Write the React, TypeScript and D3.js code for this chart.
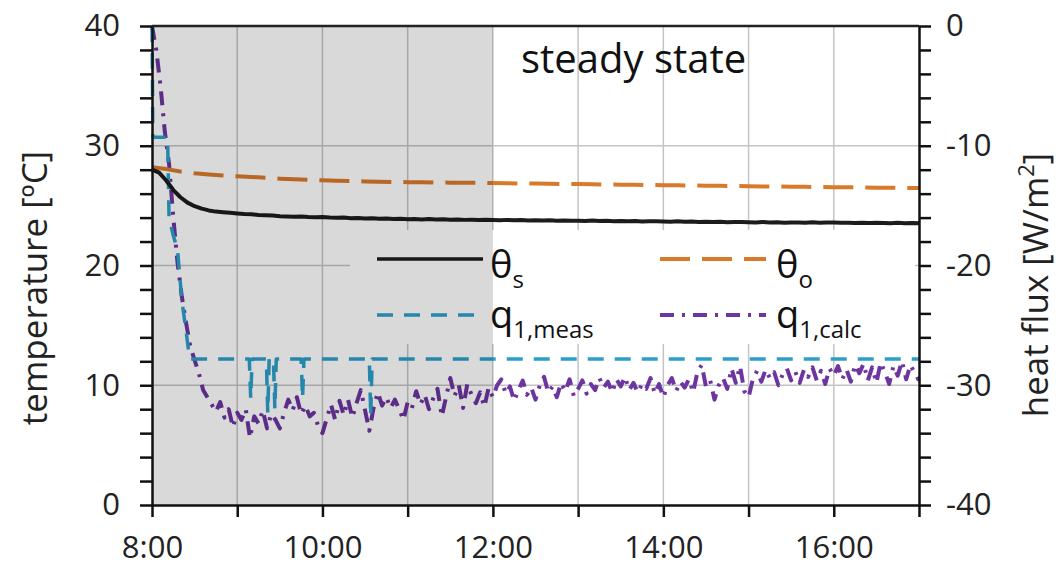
import React, { useRef, useEffect } from 'react';
import * as d3 from 'd3';

// minutes after 8:00
const hourTicks = [0, 60, 120, 180, 240, 300, 360, 420, 480, 540];

// surface temperature θs, one value every 5 min
const thetaSStep = 5;
const thetaS = [
  28.0, 27.75, 27.1, 26.3, 25.7, 25.25, 24.95, 24.75, 24.6, 24.5, 24.45, 24.4,
  24.35, 24.3, 24.28, 24.22, 24.2, 24.18, 24.12, 24.1, 24.08, 24.1, 24.05, 24.02,
  24.05, 24.0, 23.98, 24.0, 23.95, 23.97, 23.92, 23.95, 23.9, 23.93, 23.88, 23.9,
  23.87, 23.89, 23.85, 23.88, 23.84, 23.86, 23.82, 23.85, 23.81, 23.83, 23.8, 23.82,
  23.8, 23.78, 23.81, 23.77, 23.79, 23.76, 23.78, 23.75, 23.77, 23.74, 23.76, 23.73,
  23.74, 23.72, 23.75, 23.71, 23.73, 23.7, 23.72, 23.69, 23.71, 23.68, 23.7, 23.69,
  23.68, 23.66, 23.69, 23.65, 23.67, 23.64, 23.66, 23.63, 23.65, 23.62, 23.64, 23.63,
  23.62, 23.6, 23.63, 23.59, 23.61, 23.58, 23.6, 23.6, 23.58, 23.61, 23.57, 23.59,
  23.6, 23.57, 23.58, 23.55, 23.58, 23.54, 23.56, 23.55, 23.53, 23.56, 23.52, 23.54,
  23.52,
];

// operative temperature θo, one value every 10 min
const thetaOStep = 10;
const thetaO = [
  28.2, 28.05, 27.85, 27.7, 27.6, 27.52, 27.45, 27.4, 27.32, 27.25, 27.2, 27.15,
  27.12, 27.08, 27.05, 27.02, 27.0, 26.98, 26.96, 26.95, 26.93, 26.92, 26.9, 26.9,
  26.88, 26.87, 26.85, 26.84, 26.82, 26.8, 26.8, 26.78, 26.77, 26.75, 26.74, 26.72,
  26.71, 26.7, 26.68, 26.67, 26.65, 26.64, 26.62, 26.6, 26.6, 26.58, 26.57, 26.55,
  26.54, 26.53, 26.52, 26.5, 26.5, 26.48, 26.47,
];

// measured heat flux q1,meas [W/m2]
const qMeasTimes = [
  0, 0.6, 11, 12, 15, 18, 21, 24, 26.5, 68.5, 69.5, 70.5, 80.5, 81.5, 82.5,
  85.5, 86.5, 87.5, 105, 106, 107, 153, 154, 155, 540,
];
const qMeasValues = [
  0, -9.3, -9.3, -16, -17.5, -18.7, -22.9, -25.5, -27.8, -27.8, -31.1, -27.8, -27.8, -32.3, -27.8,
  -27.8, -32.0, -27.8, -27.8, -31.1, -27.8, -27.8, -32.6, -27.8, -27.8,
];

// calculated heat flux q1,calc [W/m2], one value every 3 min
const qCalcStep = 3;
const qCalc = [
  0, -2.0, -5.0, -8.8, -11.5, -16.0, -19.8, -22.6, -24.8, -26.8,
  -27.9, -29.0, -30.4, -31.0, -31.6, -32.2, -31.4, -32.7, -32.0, -33.5,
  -32.3, -32.9, -32.0, -34.4, -32.6, -33.2, -32.1, -33.6, -32.4, -32.9,
  -33.6, -32.3, -31.2, -32.1, -31.0, -32.4, -31.7, -32.6, -32.3, -33.4,
  -34.0, -32.8, -31.6, -32.9, -31.3, -32.5, -31.2, -32.7, -31.5, -30.4,
  -32.1, -33.8, -31.9, -30.6, -31.7, -31.0, -31.9, -31.2, -32.0, -32.9,
  -31.4, -31.9, -30.5, -31.6, -30.8, -32.0, -31.1, -30.3, -32.6, -31.0,
  -29.4, -30.9, -30.0, -31.9, -29.9, -30.8, -31.5, -30.6, -31.8, -30.2,
  -31.0, -30.0, -29.5, -30.7, -30.1, -31.3, -30.4, -29.6, -30.8, -30.2,
  -31.2, -30.0, -29.3, -30.6, -30.1, -31.0, -29.8, -30.5, -29.5, -30.9,
  -30.3, -29.6, -30.7, -29.9, -30.4, -29.4, -30.2, -29.7, -30.6, -29.5,
  -30.1, -29.3, -30.4, -29.8, -30.6, -29.9, -30.3, -29.4, -30.7, -29.9,
  -31.0, -30.0, -29.4, -30.5, -29.7, -30.2, -29.5, -30.6, -28.9, -28.3,
  -30.1, -29.6, -31.2, -30.0, -29.4, -30.3, -28.6, -29.8, -28.4, -30.5,
  -31.0, -29.5, -28.8, -29.7, -28.7, -29.4, -28.9, -30.0, -29.1, -28.6,
  -29.6, -28.9, -29.8, -28.7, -29.3, -28.5, -29.6, -28.8, -29.9, -28.6,
  -29.2, -28.4, -29.5, -28.7, -29.7, -28.3, -29.0, -28.2, -29.6, -28.5,
  -29.8, -28.1, -28.9, -29.9, -28.4, -29.2, -28.0, -29.5, -28.3, -29.0,
  -29.6,
];

const steadyStart = 240; // 12:00

const colors = {
  thetaS: '#1c1c1c',
  thetaO: '#d97a2b',
  qMeas: '#2b9fc9',
  qCalc: '#6d35a0',
};

const FONT = '"Open Sans", sans-serif';

export default function App() {
  const ref = useRef<SVGSVGElement>(null);

  useEffect(() => {
    const W = 1062;
    const H = 569;
    const left = 152, right = 919, top = 26, bottom = 505;

    const svg = d3.select(ref.current);
    svg.selectAll('*').remove();
    svg.attr('width', W).attr('height', H);

    const x = d3.scaleLinear().domain([0, 540]).range([left, right]);
    const yT = d3.scaleLinear().domain([0, 40]).range([bottom, top]);
    const yQ = d3.scaleLinear().domain([-40, 0]).range([bottom, top]);

    // gridlines
    const grid = svg.append('g').attr('stroke', '#c4c4c4').attr('stroke-width', 1.5);
    grid.selectAll('line.v')
      .data(hourTicks.slice(1, -1))
      .enter()
      .append('line')
      .attr('x1', d => x(d)).attr('x2', d => x(d))
      .attr('y1', top).attr('y2', bottom);
    grid.selectAll('line.h')
      .data([10, 20, 30])
      .enter()
      .append('line')
      .attr('x1', left).attr('x2', right)
      .attr('y1', d => yT(d)).attr('y2', d => yT(d));

    // legend box hides the grid behind it
    const lg = { x: 350, y: 230, w: 565, h: 114 };
    svg.append('rect')
      .attr('x', lg.x).attr('y', lg.y)
      .attr('width', lg.w).attr('height', lg.h)
      .attr('fill', '#fff');

    // series
    const lineT = d3.line<[number, number]>().x(d => x(d[0])).y(d => yT(d[1]));
    const lineQ = d3.line<[number, number]>().x(d => x(d[0])).y(d => yQ(d[1]));

    const thetaOPts: [number, number][] = thetaO.map((v, i) => [i * thetaOStep, v]);
    const thetaSPts: [number, number][] = thetaS.map((v, i) => [i * thetaSStep, v]);
    const qMeasPts: [number, number][] = qMeasTimes.map((t, i) => [t, qMeasValues[i]]);
    const qCalcPts: [number, number][] = qCalc.map((v, i) => [i * qCalcStep, v]);

    const series = [
      { d: lineQ(qCalcPts), color: colors.qCalc, w: 4, dash: '14,8,3,8' },
      { d: lineQ(qMeasPts), color: colors.qMeas, w: 3.5, dash: '16,11' },
      { d: lineT(thetaOPts), color: colors.thetaO, w: 4, dash: '30,12' },
      { d: lineT(thetaSPts), color: colors.thetaS, w: 4, dash: null },
    ];
    svg.append('g')
      .selectAll('path')
      .data(series)
      .enter()
      .append('path')
      .attr('d', d => d.d)
      .attr('fill', 'none')
      .attr('stroke', d => d.color)
      .attr('stroke-width', d => d.w)
      .attr('stroke-dasharray', d => d.dash)
      .attr('stroke-linejoin', 'round');

    // legend entries
    const legendData = [
      { main: 'θ', sub: 's', color: colors.thetaS, w: 3.5, dash: null, col: 0, row: 0 },
      { main: 'θ', sub: 'o', color: colors.thetaO, w: 4, dash: '30,12', col: 1, row: 0 },
      { main: 'q', sub: '1,meas', color: colors.qMeas, w: 3.5, dash: '16,11', col: 0, row: 1 },
      { main: 'q', sub: '1,calc', color: colors.qCalc, w: 4, dash: '14,8,3,8', col: 1, row: 1 },
    ];
    const colX = [377, 660];
    const textX = [490, 776];
    const rowY = [259, 315];
    const rowBase = [278, 328];

    const items = svg.append('g').selectAll('g').data(legendData).enter().append('g');
    items.append('line')
      .attr('x1', d => colX[d.col]).attr('x2', d => colX[d.col] + 106)
      .attr('y1', d => rowY[d.row]).attr('y2', d => rowY[d.row])
      .attr('stroke', d => d.color)
      .attr('stroke-width', d => d.w)
      .attr('stroke-dasharray', d => d.dash);
    const txt = items.append('text')
      .attr('x', d => textX[d.col])
      .attr('y', d => rowBase[d.row])
      .style('font-family', FONT)
      .style('font-size', '38px')
      .attr('fill', '#111');
    txt.append('tspan').text(d => d.main);
    txt.append('tspan')
      .attr('dy', 10)
      .style('font-size', '24px')
      .text(d => d.sub);

    // shaded transient period (before steady state)
    svg.append('rect')
      .attr('x', left).attr('y', top)
      .attr('width', x(steadyStart) - left)
      .attr('height', bottom - top)
      .attr('fill', '#000')
      .attr('fill-opacity', 0.15);

    svg.append('text')
      .attr('x', 521).attr('y', 73)
      .style('font-family', FONT)
      .style('font-size', '40px')
      .attr('fill', '#111')
      .text('steady state');

    // axes
    const styleAxis = (g: any) => {
      g.select('.domain').attr('stroke', '#111').attr('stroke-width', 2.5);
      g.selectAll('.tick line').attr('stroke', '#111').attr('stroke-width', 2.5);
      g.selectAll('.tick text')
        .style('font-family', FONT)
        .style('font-size', '31px')
        .attr('fill', '#222');
    };

    svg.append('g')
      .attr('transform', `translate(${left},0)`)
      .call(d3.axisLeft(yT)
        .tickValues(d3.range(0, 41, 2))
        .tickSize(12).tickSizeOuter(0).tickPadding(20)
        .tickFormat((d: any) => (d % 10 === 0 ? String(d) : '')))
      .call(styleAxis);

    svg.append('g')
      .attr('transform', `translate(${right},0)`)
      .call(d3.axisRight(yQ)
        .tickValues(d3.range(-40, 1, 2))
        .tickSize(12).tickSizeOuter(0).tickPadding(15)
        .tickFormat((d: any) => (d % 10 === 0 ? String(d) : '')))
      .call(styleAxis);

    svg.append('g')
      .attr('transform', `translate(0,${bottom})`)
      .call(d3.axisBottom(x)
        .tickValues(hourTicks)
        .tickSize(12).tickSizeOuter(0).tickPadding(19)
        .tickFormat((d: any) => ((d / 60) % 2 === 0 ? `${8 + d / 60}:00` : '')))
      .call(styleAxis);

    // top border
    svg.append('line')
      .attr('x1', left).attr('x2', right)
      .attr('y1', top).attr('y2', top)
      .attr('stroke', '#222').attr('stroke-width', 2.5);

    // axis titles
    svg.append('text')
      .attr('transform', 'translate(47,288) rotate(-90)')
      .attr('text-anchor', 'middle')
      .style('font-family', FONT)
      .style('font-size', '35px')
      .attr('fill', '#222')
      .text('temperature [ºC]');

    const rt = svg.append('text')
      .attr('transform', 'translate(1048,285) rotate(-90)')
      .attr('text-anchor', 'middle')
      .style('font-family', FONT)
      .style('font-size', '35px')
      .attr('fill', '#222');
    rt.append('tspan').text('heat flux [W/m');
    rt.append('tspan').attr('dy', -14).style('font-size', '22px').text('2');
    rt.append('tspan').attr('dy', 14).text(']');
  }, []);

  return (
    <div style={{ position: 'absolute', left: 0, top: 0 }}>
      <svg ref={ref}></svg>
    </div>
  );
}
